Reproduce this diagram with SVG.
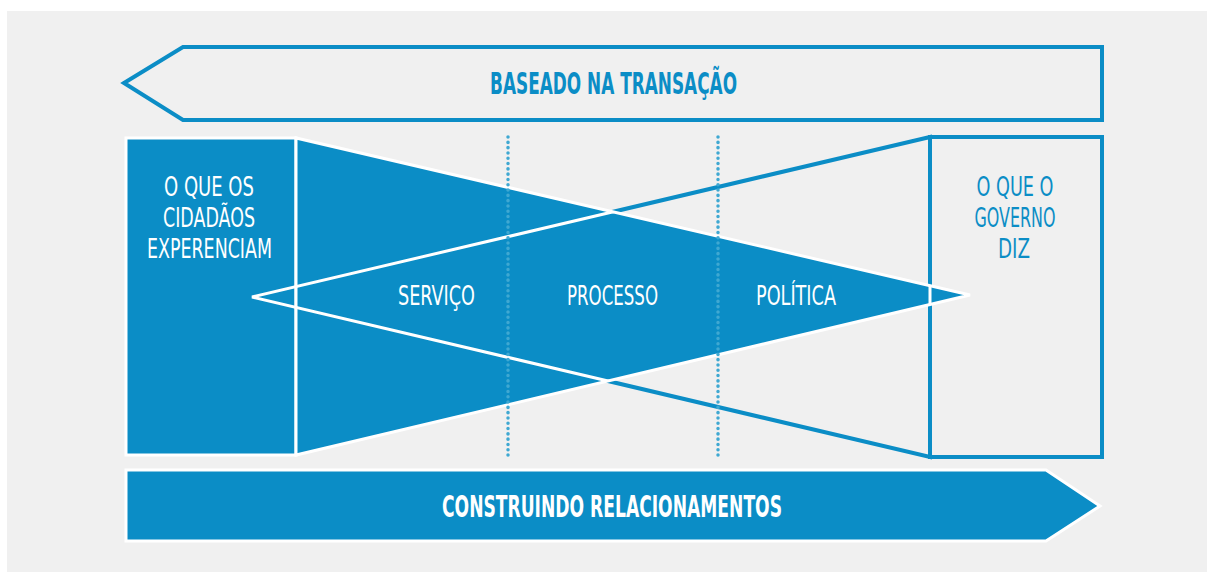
<svg xmlns="http://www.w3.org/2000/svg" width="1207" height="572" viewBox="0 0 1207 572">
  <style>
    .t { font-family: "Liberation Sans Narrow", "DejaVu Sans Condensed", "Liberation Sans", Arial, sans-serif; text-anchor: middle; }
    .tb { font-weight: bold; font-size: 31px; }
    .tn { font-weight: normal; font-size: 27px; }
    .white { fill: #ffffff; }
    .blue { fill: #0b8dc6; }
    .outline { fill: none; stroke: #0b8dc6; stroke-width: 4; stroke-linejoin: miter; }
    .solid { fill: #0b8dc6; stroke: #ffffff; stroke-width: 3; }
    .dots { stroke: #3fa8d2; stroke-width: 3.5; stroke-dasharray: 0.1 5.2; stroke-linecap: round; fill: none; }
  </style>
  <defs>
    <clipPath id="blueArea">
      <rect x="126" y="138" width="170" height="317"/>
      <polygon points="296,138 296,455 970,295"/>
    </clipPath>
  </defs>
  <rect x="7" y="11" width="1200" height="561" fill="#f0f0f0"/>

  <g id="top-arrow">
    <polygon class="outline" points="124,83 183,47 1102,47 1102,120 183,120"/>
    <text class="t tb blue" x="613.5" y="94" textLength="247" lengthAdjust="spacingAndGlyphs">BASEADO NA TRANSAÇÃO</text>
  </g>

  <g id="right-box">
    <rect class="outline" x="930" y="137" width="172" height="320"/>
    <text class="t tn blue" x="1015" y="196" textLength="77" lengthAdjust="spacingAndGlyphs">O QUE O</text>
    <text class="t tn blue" x="1015" y="227" textLength="81" lengthAdjust="spacingAndGlyphs">GOVERNO</text>
    <text class="t tn blue" x="1014" y="258" textLength="32" lengthAdjust="spacingAndGlyphs">DIZ</text>
  </g>

  <g id="left-triangle-outline">
    <polygon class="outline" points="930,137 252,297 930,457"/>
  </g>

  <g id="left-box">
    <rect class="solid" x="126" y="138" width="170" height="317"/>
    <text class="t tn white" x="209" y="196" textLength="90" lengthAdjust="spacingAndGlyphs">O QUE OS</text>
    <text class="t tn white" x="209" y="227" textLength="92" lengthAdjust="spacingAndGlyphs">CIDADÃOS</text>
    <text class="t tn white" x="209.5" y="258" textLength="125" lengthAdjust="spacingAndGlyphs">EXPERENCIAM</text>
  </g>

  <g id="right-triangle">
    <polygon class="solid" points="296,138 296,455 970,295"/>
  </g>

  <g id="connectors">
    <polygon points="930,137 252,297 930,457" fill="none" stroke="#ffffff" stroke-width="3" clip-path="url(#blueArea)"/>
    <line class="dots" x1="508" y1="137" x2="508" y2="457"/>
    <line class="dots" x1="718" y1="137" x2="718" y2="457"/>
  </g>

  <g id="servico"><text class="t tn white" x="436.5" y="305" textLength="77" lengthAdjust="spacingAndGlyphs">SERVIÇO</text></g>
  <g id="processo"><text class="t tn white" x="612.5" y="305" textLength="91" lengthAdjust="spacingAndGlyphs">PROCESSO</text></g>
  <g id="politica"><text class="t tn white" x="796" y="305" textLength="80" lengthAdjust="spacingAndGlyphs">POLÍTICA</text></g>

  <g id="bottom-arrow">
    <polygon class="solid" points="126,470 1046,470 1100,506 1046,541 126,541"/>
    <text class="t tb white" x="612" y="517" textLength="340" lengthAdjust="spacingAndGlyphs">CONSTRUINDO RELACIONAMENTOS</text>
  </g>
</svg>
